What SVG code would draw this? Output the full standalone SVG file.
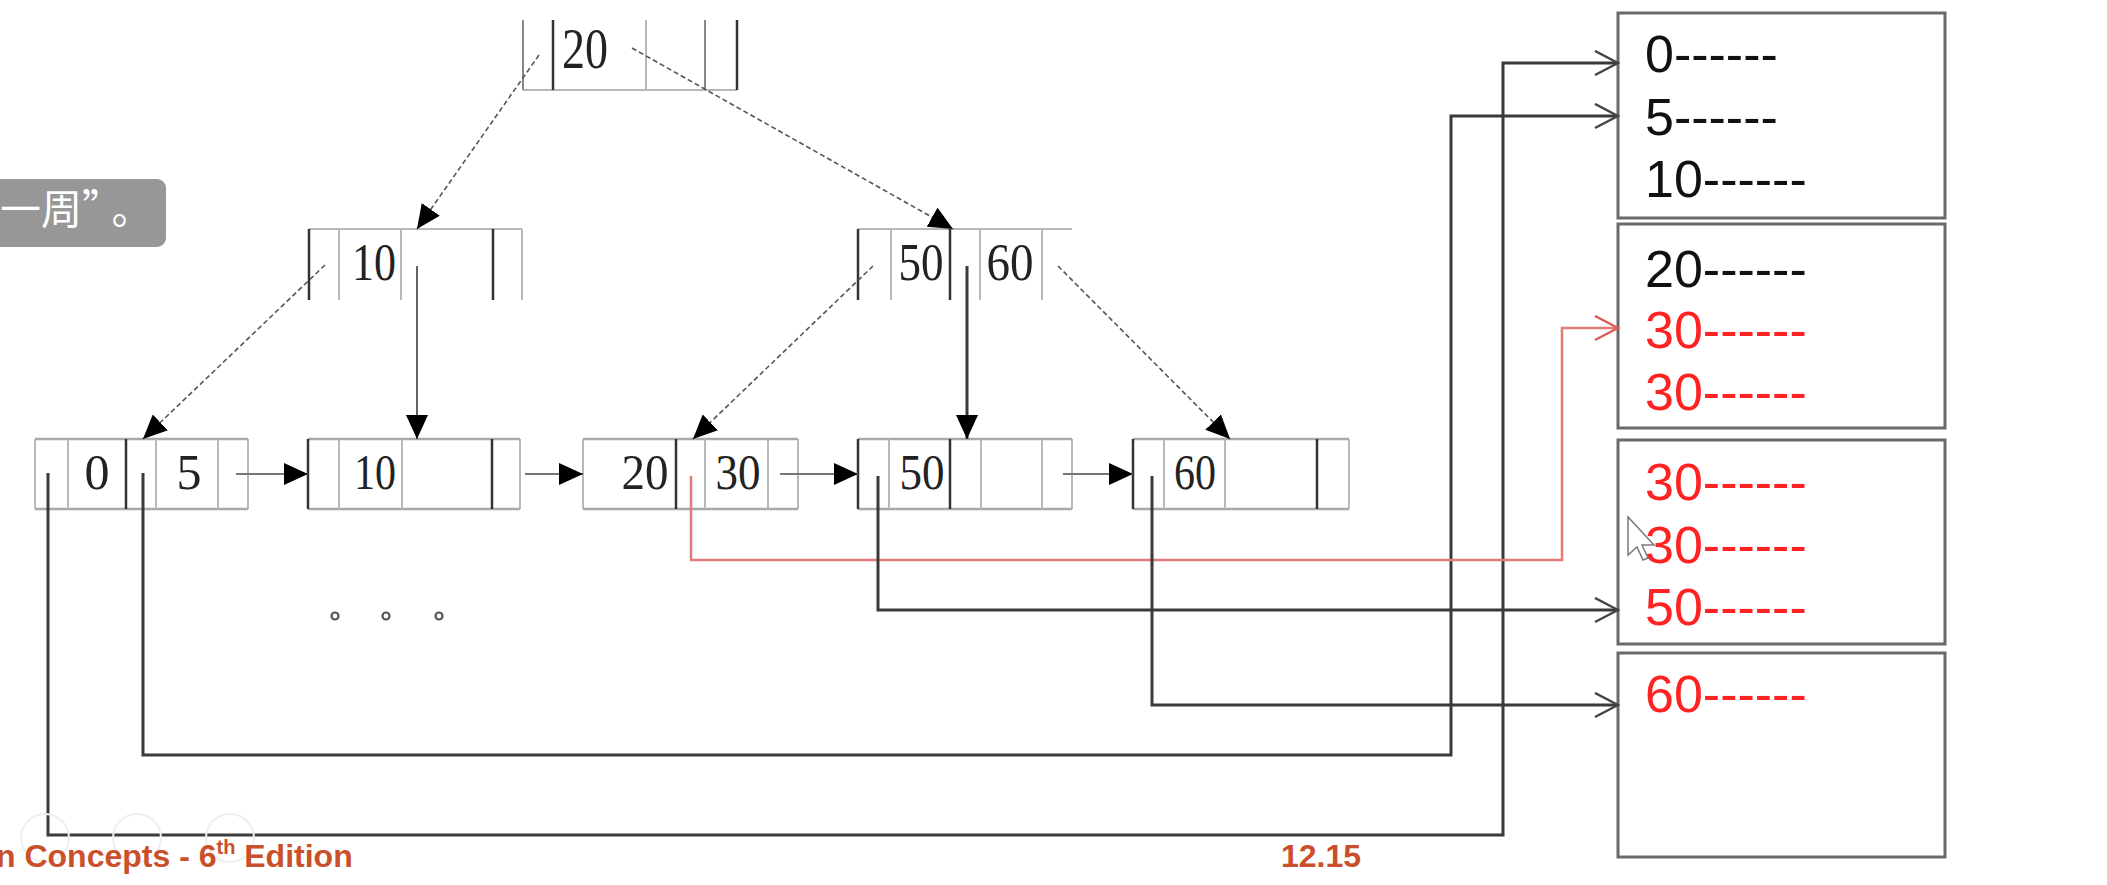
<svg xmlns="http://www.w3.org/2000/svg" width="2107" height="885" viewBox="0 0 2107 885">
<defs>
<style>
.dk{stroke:#333;stroke-width:2.5}
.lt{stroke:#b8b8b8;stroke-width:2}
.md{stroke:#888;stroke-width:2}
.hl{stroke:#a8a8a8;stroke-width:2.5}
.key{font-family:"Liberation Serif","Times New Roman",serif;fill:#222;text-anchor:middle}
.diag{stroke:#555;stroke-width:1.6;stroke-dasharray:5 3;fill:none}
.vptr{stroke:#555;stroke-width:1.8;fill:none}
.link{stroke:#777;stroke-width:1.8;fill:none}
.ptr{stroke:#3a3a3a;stroke-width:3;fill:none}
.rptr{stroke:#e47a7a;stroke-width:2.5;fill:none}
.box{fill:#fff;stroke:#6a6a6a;stroke-width:3}
.rec{font-family:"Liberation Sans",Arial,sans-serif;font-size:52px}
.blk{fill:#111}
.red{fill:#f22}
.foot{font-family:"Liberation Sans",Arial,sans-serif;font-weight:bold;font-size:32px;fill:#c9502a}
.tip{font-family:"Noto Sans CJK SC",sans-serif;font-size:41px;fill:#fff}
</style>
<marker id="tri" markerUnits="userSpaceOnUse" markerWidth="24" markerHeight="22" refX="24" refY="11" orient="auto">
<path d="M0,0 L24,11 L0,22 z" fill="#000"/>
</marker>
<marker id="chev" markerUnits="userSpaceOnUse" markerWidth="26" markerHeight="28" refX="24" refY="13" orient="auto">
<path d="M1,1 L24,13 L1,25" fill="none" stroke="#444" stroke-width="2.5"/>
</marker>
<marker id="chevr" markerUnits="userSpaceOnUse" markerWidth="26" markerHeight="28" refX="24" refY="13" orient="auto">
<path d="M1,1 L24,13 L1,25" fill="none" stroke="#e05a5a" stroke-width="2.5"/>
</marker>
</defs>
<rect width="2107" height="885" fill="#fff"/>

<!-- tooltip overlay -->
<g id="tooltip">
<rect x="-12" y="179" width="178" height="68" rx="9" fill="#979797"/>
<text x="0" y="224" class="tip">一周”<tspan dx="9">。</tspan></text>
</g>

<!-- root node -->
<g id="root">
<line x1="523" y1="90" x2="737" y2="90" class="lt"/>
<line x1="523" y1="20" x2="523" y2="90" class="md"/>
<line x1="553" y1="20" x2="553" y2="90" class="dk"/>
<line x1="646" y1="20" x2="646" y2="90" class="lt"/>
<line x1="705" y1="20" x2="705" y2="90" class="md"/>
<line x1="737" y1="20" x2="737" y2="90" class="dk"/>
<text x="585" y="68" class="key" font-size="58" textLength="46" lengthAdjust="spacingAndGlyphs">20</text>
</g>

<!-- level 2 nodes -->
<g id="node10">
<line x1="309" y1="229" x2="522" y2="229" class="lt"/>
<line x1="309" y1="229" x2="309" y2="300" class="dk"/>
<line x1="339" y1="229" x2="339" y2="300" class="lt"/>
<line x1="401" y1="229" x2="401" y2="300" class="lt"/>
<line x1="493" y1="229" x2="493" y2="300" class="dk"/>
<line x1="522" y1="229" x2="522" y2="300" class="lt"/>
<text x="374" y="280" class="key" font-size="52" textLength="44" lengthAdjust="spacingAndGlyphs">10</text>
</g>
<g id="node5060">
<line x1="858" y1="229" x2="1072" y2="229" class="lt"/>
<line x1="858" y1="229" x2="858" y2="300" class="dk"/>
<line x1="891" y1="229" x2="891" y2="300" class="lt"/>
<line x1="950" y1="229" x2="950" y2="300" class="dk"/>
<line x1="980" y1="229" x2="980" y2="300" class="lt"/>
<line x1="1042" y1="229" x2="1042" y2="300" class="lt"/>
<text x="921" y="280" class="key" font-size="52" textLength="45" lengthAdjust="spacingAndGlyphs">50</text>
<text x="1010" y="280" class="key" font-size="52" textLength="47" lengthAdjust="spacingAndGlyphs">60</text>
</g>

<!-- leaves -->
<g id="leaf05">
<line x1="35" y1="439" x2="248" y2="439" class="hl"/>
<line x1="35" y1="509" x2="248" y2="509" class="hl"/>
<line x1="35" y1="439" x2="35" y2="509" class="lt"/>
<line x1="68" y1="439" x2="68" y2="509" class="lt"/>
<line x1="126" y1="439" x2="126" y2="509" class="dk"/>
<line x1="156" y1="439" x2="156" y2="509" class="lt"/>
<line x1="218" y1="439" x2="218" y2="509" class="lt"/>
<line x1="248" y1="439" x2="248" y2="509" class="lt"/>
<text x="97" y="489" class="key" font-size="50">0</text>
<text x="189" y="489" class="key" font-size="50">5</text>
</g>
<g id="leaf10">
<line x1="308" y1="439" x2="520" y2="439" class="hl"/>
<line x1="308" y1="509" x2="520" y2="509" class="hl"/>
<line x1="308" y1="439" x2="308" y2="509" class="dk"/>
<line x1="339" y1="439" x2="339" y2="509" class="lt"/>
<line x1="402" y1="439" x2="402" y2="509" class="lt"/>
<line x1="492" y1="439" x2="492" y2="509" class="dk"/>
<line x1="520" y1="439" x2="520" y2="509" class="lt"/>
<text x="375" y="489" class="key" font-size="50" textLength="42" lengthAdjust="spacingAndGlyphs">10</text>
</g>
<g id="leaf2030">
<line x1="583" y1="439" x2="798" y2="439" class="hl"/>
<line x1="583" y1="509" x2="798" y2="509" class="hl"/>
<line x1="583" y1="439" x2="583" y2="509" class="lt"/>
<line x1="676" y1="439" x2="676" y2="509" class="dk"/>
<line x1="705" y1="439" x2="705" y2="509" class="lt"/>
<line x1="768" y1="439" x2="768" y2="509" class="lt"/>
<line x1="798" y1="439" x2="798" y2="509" class="lt"/>
<text x="645" y="489" class="key" font-size="50" textLength="47" lengthAdjust="spacingAndGlyphs">20</text>
<text x="738" y="489" class="key" font-size="50" textLength="45" lengthAdjust="spacingAndGlyphs">30</text>
</g>
<g id="leaf50">
<line x1="858" y1="439" x2="1072" y2="439" class="hl"/>
<line x1="858" y1="509" x2="1072" y2="509" class="hl"/>
<line x1="858" y1="439" x2="858" y2="509" class="dk"/>
<line x1="889" y1="439" x2="889" y2="509" class="lt"/>
<line x1="950" y1="439" x2="950" y2="509" class="dk"/>
<line x1="981" y1="439" x2="981" y2="509" class="lt"/>
<line x1="1042" y1="439" x2="1042" y2="509" class="lt"/>
<line x1="1072" y1="439" x2="1072" y2="509" class="lt"/>
<text x="922" y="489" class="key" font-size="50" textLength="45" lengthAdjust="spacingAndGlyphs">50</text>
</g>
<g id="leaf60">
<line x1="1133" y1="439" x2="1349" y2="439" class="hl"/>
<line x1="1133" y1="509" x2="1349" y2="509" class="hl"/>
<line x1="1133" y1="439" x2="1133" y2="509" class="dk"/>
<line x1="1164" y1="439" x2="1164" y2="509" class="lt"/>
<line x1="1225" y1="439" x2="1225" y2="509" class="lt"/>
<line x1="1317" y1="439" x2="1317" y2="509" class="dk"/>
<line x1="1349" y1="439" x2="1349" y2="509" class="lt"/>
<text x="1195" y="489" class="key" font-size="50" textLength="42" lengthAdjust="spacingAndGlyphs">60</text>
</g>

<g id="ellipsis" fill="#fff" stroke="#555" stroke-width="2.2">
<circle cx="335" cy="616" r="3.5"/>
<circle cx="386" cy="616" r="3.5"/>
<circle cx="439" cy="616" r="3.5"/>
</g>

<!-- data blocks -->
<g id="block1">
<rect x="1618" y="13" width="327" height="205" class="box"/>
<text x="1645" y="72" class="rec blk">0------</text>
<text x="1645" y="135" class="rec blk">5------</text>
<text x="1645" y="197" class="rec blk">10------</text>
</g>
<g id="block2">
<rect x="1618" y="224" width="327" height="204" class="box"/>
<text x="1645" y="287" class="rec blk">20------</text>
<text x="1645" y="348" class="rec red">30------</text>
<text x="1645" y="410" class="rec red">30------</text>
</g>
<g id="block3">
<rect x="1618" y="440" width="327" height="204" class="box"/>
<text x="1645" y="500" class="rec red">30------</text>
<text x="1645" y="563" class="rec red">30------</text>
<text x="1645" y="625" class="rec red">50------</text>
</g>
<g id="block4">
<rect x="1618" y="653" width="327" height="204" class="box"/>
<text x="1645" y="712" class="rec red">60------</text>
</g>

<!-- connectors -->
<g id="connectors">
<line x1="539" y1="55" x2="417" y2="229" class="diag" marker-end="url(#tri)"/>
<line x1="632" y1="48" x2="953" y2="229" class="diag" marker-end="url(#tri)"/>
<line x1="325" y1="265" x2="143" y2="439" class="diag" marker-end="url(#tri)"/>
<line x1="417" y1="266" x2="417" y2="439" class="vptr" marker-end="url(#tri)"/>
<line x1="873" y1="266" x2="693" y2="439" class="diag" marker-end="url(#tri)"/>
<line x1="967" y1="266" x2="967" y2="439" class="ptr" stroke-width="2.2" marker-end="url(#tri)"/>
<line x1="1058" y1="266" x2="1230" y2="439" class="diag" marker-end="url(#tri)"/>
<line x1="236" y1="474" x2="308" y2="474" class="link" marker-end="url(#tri)"/>
<line x1="525" y1="474" x2="583" y2="474" class="link" marker-end="url(#tri)"/>
<line x1="780" y1="474" x2="858" y2="474" class="link" marker-end="url(#tri)"/>
<line x1="1063" y1="474" x2="1133" y2="474" class="link" marker-end="url(#tri)"/>
<polyline points="48,473 48,835 1503,835 1503,63 1618,63" class="ptr" marker-end="url(#chev)"/>
<polyline points="143,473 143,755 1451,755 1451,116 1618,116" class="ptr" marker-end="url(#chev)"/>
<polyline points="691,476 691,560 1562,560 1562,328 1618,328" class="rptr" marker-end="url(#chevr)"/>
<polyline points="878,476 878,610 1618,610" class="ptr" marker-end="url(#chev)"/>
<polyline points="1152,476 1152,705 1618,705" class="ptr" marker-end="url(#chev)"/>
</g>

<!-- faint player controls -->
<g id="controls" fill="none" stroke="#efefef" stroke-width="2">
<circle cx="45" cy="838" r="24"/>
<circle cx="137" cy="838" r="24"/>
<circle cx="230" cy="838" r="24"/>
</g>

<!-- footer -->
<g id="footer">
<text x="-4" y="867" class="foot">n Concepts - 6<tspan font-size="20" dy="-13">th</tspan><tspan dy="13"> Edition</tspan></text>
<text x="1281" y="867" class="foot">12.15</text>
</g>

<!-- mouse cursor -->
<g id="cursor">
<path d="M1628,517 L1628,555 L1637,547 L1643,560 L1648,558 L1642,545 L1654,545 Z" fill="#fff" fill-opacity="0.6" stroke="#7a7a7a" stroke-width="1.5"/>
</g>
</svg>
